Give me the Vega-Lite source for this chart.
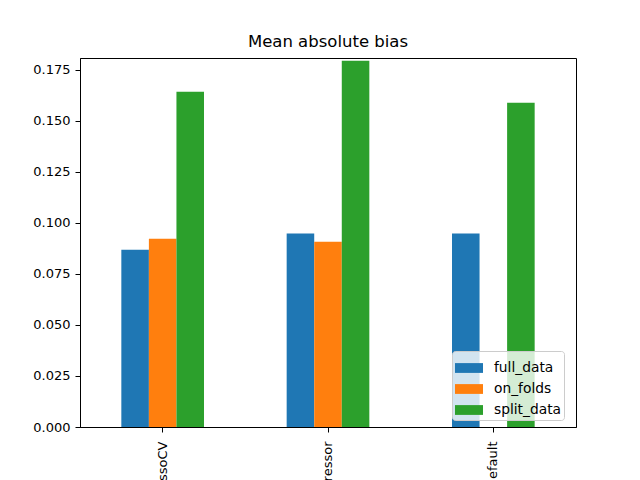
{
  "$schema": "https://vega.github.io/schema/vega-lite/v6.json",
  "autosize": {"type": "none"},
  "padding": {"left": 80, "top": 58, "right": 64, "bottom": 53},
  "width": 496,
  "height": 369,
  "background": "white",
  "title": {
    "text": "Mean absolute bias",
    "font": "DejaVu Sans",
    "fontSize": 16.5,
    "fontWeight": "normal",
    "color": "#000000",
    "offset": 8
  },
  "data": {
    "values": [
      {"model": "LassoCV", "method": "full_data", "bias": 0.0868},
      {"model": "LassoCV", "method": "on_folds", "bias": 0.0922},
      {"model": "LassoCV", "method": "split_data", "bias": 0.1642},
      {"model": "RandomForestRegressor", "method": "full_data", "bias": 0.0947},
      {"model": "RandomForestRegressor", "method": "on_folds", "bias": 0.0907},
      {"model": "RandomForestRegressor", "method": "split_data", "bias": 0.1794},
      {"model": "default", "method": "full_data", "bias": 0.0947},
      {"model": "default", "method": "split_data", "bias": 0.1588}
    ]
  },
  "mark": {"type": "bar"},
  "encoding": {
    "x": {
      "field": "model",
      "type": "nominal",
      "sort": null,
      "title": null,
      "scale": {"paddingInner": 0.5, "paddingOuter": 0.25},
      "axis": {"labelAngle": -90, "labelPadding": 9}
    },
    "xOffset": {
      "field": "method",
      "type": "nominal",
      "scale": {"domain": ["full_data", "on_folds", "split_data"], "paddingInner": 0, "paddingOuter": 0}
    },
    "y": {
      "field": "bias",
      "type": "quantitative",
      "title": null,
      "scale": {"domain": [0, 0.1807], "nice": false, "zero": true},
      "axis": {"values": [0, 0.025, 0.05, 0.075, 0.1, 0.125, 0.15, 0.175], "format": ".3f", "labelPadding": 5}
    },
    "color": {
      "field": "method",
      "type": "nominal",
      "title": null,
      "scale": {"domain": ["full_data", "on_folds", "split_data"], "range": ["#1f77b4", "#ff7f0e", "#2ca02c"]},
      "legend": {
        "orient": "none",
        "legendX": 372,
        "legendY": 293,
        "symbolType": "M-1,-0.35H1V0.35H-1Z",
        "symbolSize": 784,
        "symbolStrokeWidth": 0,
        "symbolOpacity": 1,
        "labelFontSize": 13.8,
        "labelFont": "DejaVu Sans",
        "labelColor": "#000000",
        "labelOffset": 11,
        "rowPadding": 0,
        "padding": 3,
        "fillColor": "rgba(255,255,255,0.8)",
        "strokeColor": "#cccccc",
        "cornerRadius": 3
      }
    }
  },
  "config": {
    "view": {"stroke": "#000000", "strokeWidth": 1},
    "axis": {
      "grid": false,
      "domainColor": "#000000",
      "tickColor": "#000000",
      "tickSize": 5,
      "labelFont": "DejaVu Sans",
      "labelFontSize": 13,
      "labelColor": "#000000"
    }
  }
}
